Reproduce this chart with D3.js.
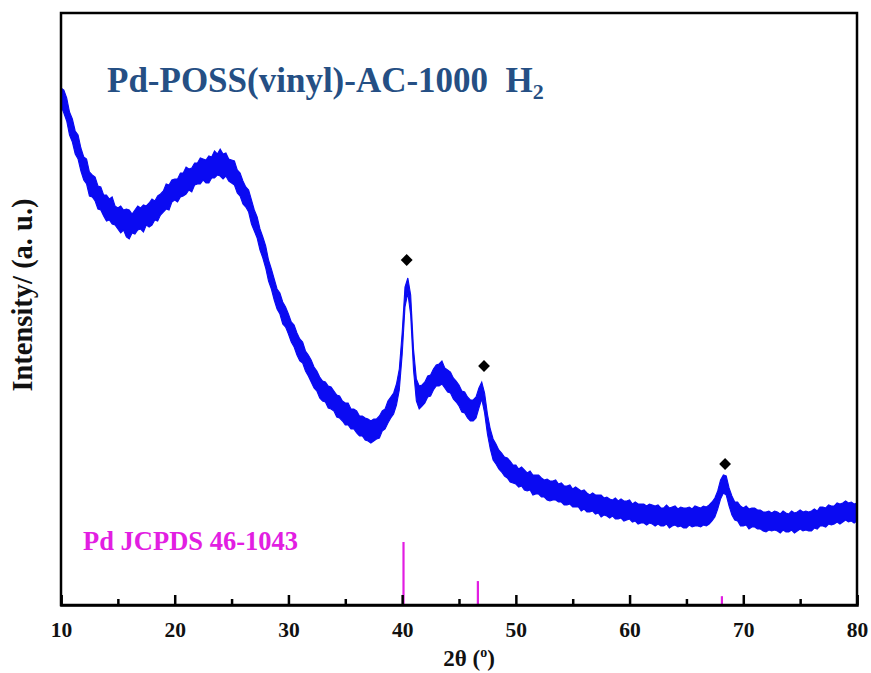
<!DOCTYPE html>
<html>
<head>
<meta charset="utf-8">
<script src="https://cdn.jsdelivr.net/npm/d3@7"></script>
<style>
  body { margin: 0; background: #fff; }
  svg { display: block; }
  text { font-family: "Liberation Serif", "Times New Roman", serif; font-weight: bold; }
</style>
</head>
<body>
<svg id="chart" width="871" height="673"></svg>
<script>
// XRD scan, 2θ from 10° to 80° in 0.25° steps.
// Each step keeps the upper and lower edge of the noisy trace (a.u.).
const scanStart = 10;
const scanStep = 0.25;

const upper = [
  517, 515, 507, 493,  486, 474, 470, 457,  448, 446, 433, 430,  428, 419, 418, 410,
  410, 406, 408, 399,  397, 399, 395, 396,  395, 391, 395, 399,  397, 400, 399, 402,
  406, 404, 409, 411,  414, 421, 420, 425,  426, 426, 432, 432,  438, 436, 437, 442,
  442, 447, 446, 445,  449, 448, 454, 451,  456, 451, 452, 446,  445, 444, 435, 432,
  424, 418, 415, 405,  395, 388, 376, 368,  359, 345, 336, 326,  316, 312, 303, 298,
  291, 283, 280, 272,  266, 263, 254, 250,  245, 238, 234, 228,  224, 223, 219, 218,
  214, 210, 209, 204,  202, 202, 196, 196,  194, 189, 189, 187,  186, 184, 186, 186,
  189, 194, 196, 204,  208, 212, 221, 236,  272, 318, 327, 310,  256, 226, 219, 220,
  223, 229, 230, 236,  240, 241, 244, 237,  235, 233, 227, 224,  220, 214, 213, 208,
  205, 205, 208, 217,  223, 212, 191, 176,  166, 161, 155, 152,  148, 147, 144, 140,
  140, 136, 138, 135,  132, 134, 130, 130,  130, 127, 125, 126,  124, 124, 125, 121,
  122, 119, 119, 120,  116, 118, 116, 114,  115, 112, 110, 112,  110, 110, 110, 107,
  108, 106, 105, 107,  104, 106, 104, 104,  105, 101, 103, 101,  101, 101,  99, 101,
  100,  99, 100,  97,   97, 100,  97,  98,   99,  96,  98,  97,   97,  98,  96,  99,
   98,  97,  99,  98,  100, 103, 107, 114,  125, 130, 129, 117,  109, 103, 103,  99,
   97,  99,  96,  97,   97,  95,  95,  93,   93,  94,  92,  94,   93,  91,  94,  92,
   91,  94,  92,  93,   95,  93,  94,  93,   94,  96,  94,  98,   98,  97, 100,  99,
   99, 102, 101, 102,  104, 102, 103, 101,  102
];

const lower = [
  499, 492, 484, 470,  463, 451, 446, 434,  425, 421, 409, 408,  404, 396, 395, 389,
  384, 385, 381, 380,  376, 372, 375, 368,  366, 372, 371, 375,  376, 373, 380, 378,
  380, 385, 384, 390,  393, 396, 395, 403,  405, 403, 408, 409,  411, 415, 413, 420,
  421, 421, 425, 422,  422, 427, 427, 430,  429, 426, 429, 424,  422, 420, 412, 409,
  401, 398, 393, 381,  374, 367, 355, 347,  337, 324, 316, 305,  296, 291, 281, 278,
  271, 263, 258, 250,  244, 242, 234, 229,  223, 217, 214, 207,  204, 203, 197, 196,
  194, 188, 187, 184,  180, 180, 176, 176,  172, 169, 169, 165,  164, 162, 164, 166,
  167, 174, 176, 182,  187, 191, 200, 215,  250, 298, 312, 290,  235, 204, 196, 199,
  202, 208, 209, 215,  219, 219, 221, 217,  213, 212, 206, 203,  199, 193, 192, 187,
  184, 184, 187, 197,  206, 192, 171, 156,  145, 141, 136, 133,  129, 127, 123, 122,
  121, 118, 119, 115,  114, 115, 110, 111,  111, 108, 108, 105,  104, 105, 105, 103,
  103, 100, 100, 101,   98,  98,  98,  94,   96,  93,  93,  94,   91,  92,  88,  90,
   89,  87,  89,  86,   86,  87,  84,  85,   86,  83,  84,  81,   82,  82,  80,  82,
   81,  79,  81,  79,   79,  81,  77,  79,   80,  78,  79,  77,   77,  80,  78,  79,
   79,  78,  80,  79,   81,  84,  88,  96,  106, 112, 110,  99,   90,  85,  84,  79,
   79,  80,  76,  78,   78,  76,  76,  74,   73,  75,  74,  75,   74,  72,  75,  73,
   73,  75,  72,  74,   76,  74,  75,  74,   74,  77,  76,  79,   79,  78,  81,  80,
   81,  83,  81,  83,   85,  83,  84,  82,   84
];

// Pd reference pattern (JCPDS 46-1043): positions and relative intensities
const refAngles = [40.12, 46.66, 68.12];
const refIntensity = [100, 38, 14];

// Reflections flagged with a diamond: angle and marker height (a.u.)
const markAngles = [40.4, 47.2, 68.4];
const markHeights = [345, 239, 141];

const majorTicks = [10, 20, 30, 40, 50, 60, 70, 80];
const minorTicks = [15, 25, 35, 45, 55, 65, 75];

const angles = upper.map((_, i) => scanStart + i * scanStep);

const svg = d3.select("#chart");
const plot = { left: 61, right: 857, top: 13, bottom: 605 };

const x = d3.scaleLinear().domain([10, 80]).range([plot.left, plot.right]);
const y = d3.scaleLinear().domain([0, 592]).range([plot.bottom, plot.top]);
const yRef = d3.scaleLinear().domain([0, 100]).range([plot.bottom, plot.bottom - 63]);

// Noisy diffraction trace drawn as the band between its edges
const band = d3.area()
  .x((d, i) => x(angles[i]))
  .y0((d, i) => y(lower[i]))
  .y1((d, i) => y(upper[i]));

svg.append("path")
  .datum(upper)
  .attr("d", band)
  .attr("fill", "#0a0af2")
  .attr("stroke", "#0a0af2")
  .attr("stroke-width", 1.1)
  .attr("stroke-linejoin", "miter");

// Reference stick pattern
svg.append("g")
  .selectAll("line")
  .data(refAngles)
  .join("line")
  .attr("x1", d => x(d))
  .attr("x2", d => x(d))
  .attr("y1", plot.bottom)
  .attr("y2", (d, i) => yRef(refIntensity[i]))
  .attr("stroke", "#e21ee2")
  .attr("stroke-width", 2.2);

// Diamond markers above Pd reflections
const diamond = d3.symbol().type(d3.symbolSquare).size(70);
svg.append("g")
  .selectAll("path")
  .data(markAngles)
  .join("path")
  .attr("d", diamond)
  .attr("transform", (d, i) => `translate(${x(d)},${y(markHeights[i])}) rotate(45)`)
  .attr("fill", "#000");

// Frame
svg.append("rect")
  .attr("x", plot.left)
  .attr("y", plot.top)
  .attr("width", plot.right - plot.left)
  .attr("height", plot.bottom - plot.top)
  .attr("fill", "none")
  .attr("stroke", "#000")
  .attr("stroke-width", 2.5);

// Bottom axis with inward ticks
const axisMajor = d3.axisBottom(x)
  .tickValues(majorTicks)
  .tickSize(-10)
  .tickPadding(17)
  .tickFormat(d3.format("d"));

const gx = svg.append("g")
  .attr("transform", `translate(0,${plot.bottom})`)
  .call(axisMajor);
gx.select(".domain").attr("stroke-width", 2.5);
gx.selectAll(".tick line").attr("stroke-width", 2.5);
gx.selectAll(".tick text")
  .attr("font-size", 21.5)
  .attr("font-family", "Liberation Serif, serif")
  .attr("font-weight", "bold")
  .attr("fill", "#111");

const gxMinor = svg.append("g")
  .attr("transform", `translate(0,${plot.bottom})`)
  .call(d3.axisBottom(x).tickValues(minorTicks).tickSize(-6).tickFormat(""));
gxMinor.select(".domain").remove();
gxMinor.selectAll(".tick line").attr("stroke-width", 2.5);

// Axis titles
const xTitle = svg.append("text")
  .attr("x", 469)
  .attr("y", 666)
  .attr("text-anchor", "middle")
  .attr("font-size", 23)
  .attr("fill", "#111");
xTitle.append("tspan").text("2θ (");
xTitle.append("tspan").attr("font-size", 14).attr("dy", -9).text("o");
xTitle.append("tspan").attr("dy", 9).text(")");

svg.append("text")
  .attr("transform", "translate(32,295) rotate(-90)")
  .attr("text-anchor", "middle")
  .attr("font-size", 28.5)
  .attr("fill", "#111")
  .text("Intensity/ (a. u.)");

// Sample name
const title = svg.append("text")
  .attr("x", 107)
  .attr("y", 92)
  .attr("font-size", 35)
  .attr("fill", "#254f84");
title.append("tspan").text("Pd-POSS(vinyl)-AC-1000\u00a0\u00a0H");
title.append("tspan").attr("font-size", 22).attr("dy", 7).text("2");

// Reference card label
svg.append("text")
  .attr("x", 83)
  .attr("y", 550)
  .attr("font-size", 26.5)
  .attr("fill", "#e21ee2")
  .text("Pd JCPDS 46-1043");
</script>
</body>
</html>
